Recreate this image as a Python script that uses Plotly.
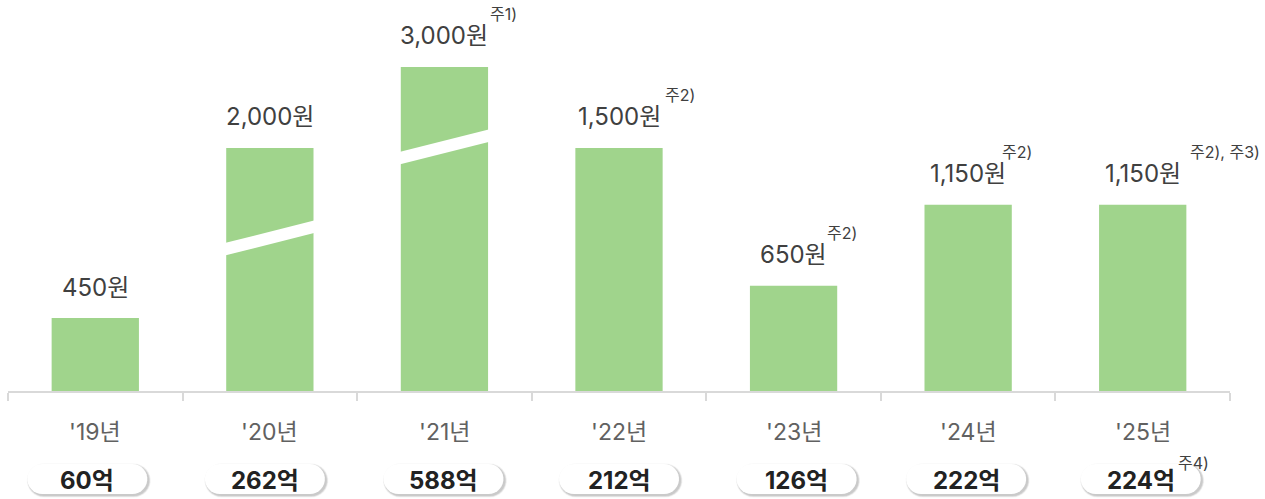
import numpy as np
import plotly.graph_objects as go

# ---------------- data ----------------
years = ["'19년", "'20년", "'21년", "'22년", "'23년", "'24년", "'25년"]
dividend_won = [450, 2000, 3000, 1500, 650, 1150, 1150]          # label values (원)
drawn_height = [450, 1500, 2000, 1500, 650, 1150, 1150]          # heights on the broken axis
break_center = [None, 945, 1507, None, None, None, None]         # axis-break position (axis units)
value_notes = ["", "", "주1)", "주2)", "주2)", "주2)", "주2), 주3)"]
total_eok = [60, 262, 588, 212, 126, 222, 224]                   # 억
total_notes = ["", "", "", "", "", "", "주4)"]

# ---------------- style ----------------
BAR = "#a0d48c"
AXIS = "#d9d9d9"
FONT = "Inter, 'Noto Sans CJK KR', sans-serif"
note_dx = [0, 0, 44, 44, 31, 32, 45]          # px offset of superscript from bar centre
pill_dx = [-8, -5, -1, 0, 3, -2, -2]          # px offset of total pill from category centre
BREAK_SLOPE = 272     # axis units per category unit
BREAK_THICK = 77      # axis units

n = len(years)
xs = list(range(n))

fig = go.Figure()
fig.add_trace(go.Bar(x=xs, y=drawn_height, marker=dict(color=BAR, line=dict(width=0)),
                     hoverinfo="skip", showlegend=False))

# axis-break white stripes
for i, c in enumerate(break_center):
    if c is None:
        continue
    xl, xr = i - 0.27, i + 0.27
    yl, yr = c + BREAK_SLOPE * (xl - i), c + BREAK_SLOPE * (xr - i)
    h = BREAK_THICK / 2
    fig.add_trace(go.Scatter(
        x=[xl, xr, xr, xl, xl],
        y=[yl - h, yr - h, yr + h, yl + h, yl - h],
        mode="lines", fill="toself", fillcolor="white",
        line=dict(color="white", width=0), hoverinfo="skip", showlegend=False))

ann = []
for i in xs:
    ann.append(dict(x=i, y=drawn_height[i], xref="x", yref="y", text=f"{dividend_won[i]:,}원",
                    showarrow=False, xanchor="center", yanchor="middle", yshift=31,
                    font=dict(family=FONT, size=24, color="#404040")))
    if value_notes[i]:
        ann.append(dict(x=i, y=drawn_height[i], xref="x", yref="y", text=value_notes[i],
                        showarrow=False, xanchor="left", yanchor="middle",
                        xshift=note_dx[i], yshift=53,
                        font=dict(family=FONT, size=16, color="#404040")))
    ann.append(dict(x=i, y=0, xref="x", yref="paper", text=years[i], showarrow=False,
                    xanchor="center", yanchor="middle", yshift=-41,
                    font=dict(family=FONT, size=23, color="#616161")))
    ann.append(dict(x=i, y=0, xref="x", yref="paper", text=f"<b>{total_eok[i]}억</b>",
                    showarrow=False, xanchor="center", yanchor="middle",
                    xshift=pill_dx[i], yshift=-89,
                    font=dict(family=FONT, size=24, color="#222222")))
    if total_notes[i]:
        ann.append(dict(x=i, y=0, xref="x", yref="paper", text=total_notes[i], showarrow=False,
                        xanchor="left", yanchor="middle", xshift=33, yshift=-72,
                        font=dict(family=FONT, size=16, color="#404040")))


def pill_path(cx, y0, y1, w, r, npts=16):
    pts = []
    xl, xr = cx - w / 2 + r, cx + w / 2 - r
    yc = (y0 + y1) / 2
    for a in np.linspace(-np.pi / 2, np.pi / 2, npts):
        pts.append((xr + r * np.cos(a), yc + r * np.sin(a)))
    for a in np.linspace(np.pi / 2, 3 * np.pi / 2, npts):
        pts.append((xl + r * np.cos(a), yc + r * np.sin(a)))
    return "M" + " L".join(f"{px:.2f},{py:.2f}" for px, py in pts) + " Z"


shapes = []
for i in xs:
    cx = pill_dx[i]
    # soft shadow
    for k, op in [(4, 0.04), (3, 0.05), (2, 0.06), (1, 0.07)]:
        shapes.append(dict(type="path", xref="x", yref="paper", xsizemode="pixel", ysizemode="pixel",
                           xanchor=i, yanchor=0,
                           path=pill_path(cx + 1.5, -103 - 1.5 - k * 0.5, -73 - 1.5 + k * 0.5, 120 + k, 15 + k / 2),
                           fillcolor=f"rgba(0,0,0,{op})", line=dict(width=0), layer="above"))
    shapes.append(dict(type="path", xref="x", yref="paper", xsizemode="pixel", ysizemode="pixel",
                       xanchor=i, yanchor=0, path=pill_path(cx, -103, -73, 120, 15),
                       fillcolor="white", line=dict(width=0), layer="above"))

fig.update_layout(
    width=1265, height=499,
    margin=dict(l=8, r=35, t=2, b=108),
    paper_bgcolor="white", plot_bgcolor="white",
    bargap=0.5,
    xaxis=dict(range=[-0.5, n - 0.5], tickvals=[k - 0.5 for k in range(n + 1)],
               showticklabels=False, ticks="outside", ticklen=8, tickwidth=1.5, tickcolor=AXIS,
               showline=True, linecolor=AXIS, linewidth=1.5, showgrid=False, zeroline=False,
               fixedrange=True),
    yaxis=dict(range=[0, 2401], visible=False, fixedrange=True),
    annotations=ann,
    shapes=shapes,
    showlegend=False,
)

fig.write_html("out.html", config={"displayModeBar": False},
               post_script="document.body.style.margin='0';document.body.style.overflow='hidden';")
